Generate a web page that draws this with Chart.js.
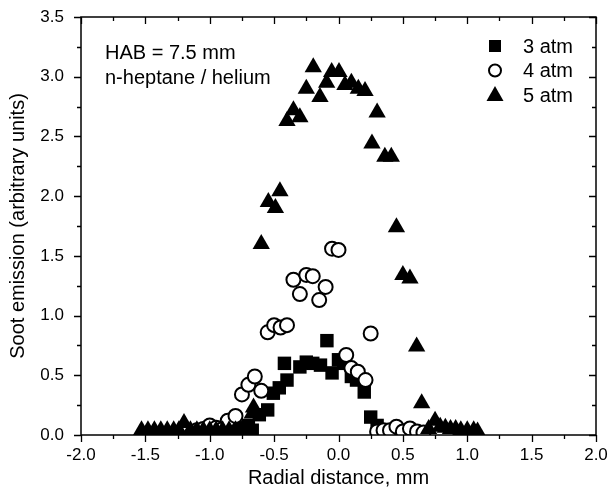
<!DOCTYPE html>
<html lang="en">
<head>
<meta charset="UTF-8">
<title>Soot emission profiles</title>
<script src="https://cdn.jsdelivr.net/npm/chart.js"></script>
<style>
  html, body { margin: 0; padding: 0; background: #fff; }
</style>
</head>
<body>
<canvas id="sootChart" width="608" height="493"></canvas>
<script>
// radial profiles of soot emission at HAB = 7.5 mm, three pressures
const x3atm = [-1.0, -0.95, -0.9, -0.85, -0.8, -0.75, -0.7, -0.67, -0.615, -0.55, -0.506, -0.46, -0.40,
               -0.42, -0.30, -0.25, -0.20, -0.14, -0.09, -0.05, 0.0, 0.04, 0.10, 0.14, 0.20, 0.25, 0.30, 0.36, 0.42];
const y3atm = [0.03, 0.04, 0.03, 0.05, 0.06, 0.05, 0.08, 0.04, 0.17, 0.21, 0.35, 0.395, 0.46,
               0.60, 0.57, 0.61, 0.60, 0.585, 0.79, 0.52, 0.63, 0.60, 0.49, 0.46, 0.36, 0.15, 0.08, 0.04, 0.02];

const x4atm = [-1.1, -1.05, -1.0, -0.95, -0.9, -0.86, -0.8, -0.75, -0.7, -0.65, -0.6, -0.55, -0.5, -0.45, -0.4,
               -0.35, -0.30, -0.25, -0.20, -0.15, -0.10, -0.05, 0.0, 0.06, 0.10, 0.15, 0.21, 0.25,
               0.30, 0.35, 0.40, 0.45, 0.50, 0.555, 0.61, 0.66];
const y4atm = [0.04, 0.05, 0.08, 0.06, 0.05, 0.12, 0.16, 0.34, 0.42, 0.49, 0.37, 0.86, 0.92, 0.90, 0.92,
               1.30, 1.18, 1.34, 1.33, 1.13, 1.24, 1.56, 1.55, 0.67, 0.56, 0.53, 0.46, 0.85,
               0.03, 0.04, 0.04, 0.07, 0.03, 0.055, 0.03, 0.02];

const x5atm = [-1.53, -1.48, -1.43, -1.38, -1.33, -1.28, -1.24, -1.2, -1.15, -1.1, -1.05, -1.0, -0.95, -0.9,
               -0.85, -0.8, -0.75, -0.71, -0.67, -0.66,
               -0.6, -0.545, -0.49, -0.455, -0.40, -0.35, -0.30, -0.25, -0.196, -0.144, -0.092, -0.053,
               0.004, 0.05, 0.10, 0.154, 0.206, 0.26, 0.30, 0.36, 0.41, 0.45, 0.50, 0.555, 0.607, 0.646,
               0.70, 0.75, 0.79, 0.83, 0.87, 0.91, 0.95, 1.0, 1.05, 1.08];
const y5atm = [0.04, 0.04, 0.04, 0.04, 0.04, 0.04, 0.04, 0.1, 0.04, 0.04, 0.04, 0.04, 0.04, 0.04,
               0.04, 0.04, 0.04, 0.04, 0.18, 0.23,
               1.60, 1.95, 1.90, 2.04, 2.63, 2.72, 2.66, 2.90, 3.08, 2.83, 2.95, 3.04,
               3.04, 2.93, 2.95, 2.90, 2.88, 2.44, 2.70, 2.33, 2.33, 1.74, 1.34, 1.31, 0.74, 0.265,
               0.05, 0.12, 0.07, 0.06, 0.05, 0.05, 0.04, 0.04, 0.04, 0.03];

const seriesLabels = ['3 atm', '4 atm', '5 atm'];
const noteLines = ['HAB = 7.5 mm', 'n-heptane / helium'];

const FONT = "'Liberation Sans', Arial, sans-serif";

function toPoints(xs, ys) {
    return xs.map((x, i) => ({ x: x, y: ys[i] }));
}

// frame, inward ticks on top/right, outward ticks on bottom/left, legend and note
const framePlugin = {
    id: 'frame',
    afterDraw(chart) {
        const ctx = chart.ctx;
        const xs = chart.scales.x, ys = chart.scales.y;
        const a = chart.chartArea;
        ctx.save();
        ctx.strokeStyle = '#000';
        ctx.lineWidth = 1.5;
        ctx.strokeRect(a.left, a.top, a.right - a.left, a.bottom - a.top);

        ctx.lineWidth = 1.3;
        ctx.beginPath();
        for (let i = 0; i <= 16; i++) {
            const v = -2 + i * 0.25;
            const px = Math.round(xs.getPixelForValue(v)) + 0.5;
            const len = i % 2 === 0 ? 7 : 4;
            ctx.moveTo(px, a.bottom); ctx.lineTo(px, a.bottom + len);
            ctx.moveTo(px, a.top); ctx.lineTo(px, a.top + len);
        }
        for (let i = 0; i <= 14; i++) {
            const v = i * 0.25;
            const py = Math.round(ys.getPixelForValue(v)) + 0.5;
            const len = i % 2 === 0 ? 7 : 4;
            ctx.moveTo(a.left, py); ctx.lineTo(a.left - len, py);
            ctx.moveTo(a.right, py); ctx.lineTo(a.right - len, py);
        }
        ctx.stroke();

        // annotation
        ctx.fillStyle = '#000';
        ctx.font = '20px ' + FONT;
        ctx.textBaseline = 'middle';
        ctx.textAlign = 'left';
        noteLines.forEach((t, i) => ctx.fillText(t, 105, 53 + i * 25));

        // legend
        const lx = 495, ly = 46, step = 24.5;
        seriesLabels.forEach((t, i) => {
            const cy = ly + i * step;
            ctx.beginPath();
            if (i === 0) {
                ctx.fillRect(lx - 6, cy - 6, 12, 12);
            } else if (i === 1) {
                ctx.lineWidth = 2;
                ctx.arc(lx, cy, 6, 0, Math.PI * 2);
                ctx.fillStyle = '#fff';
                ctx.fill();
                ctx.stroke();
                ctx.fillStyle = '#000';
            } else {
                ctx.moveTo(lx, cy - 9);
                ctx.lineTo(lx + 8.5, cy + 6);
                ctx.lineTo(lx - 8.5, cy + 6);
                ctx.closePath();
                ctx.fill();
            }
            ctx.fillText(t, 523, cy + 1);
        });
        ctx.restore();
    }
};

const ctx = document.getElementById('sootChart').getContext('2d');
new Chart(ctx, {
    type: 'scatter',
    data: {
        datasets: [{
            label: seriesLabels[0],
            data: toPoints(x3atm, y3atm),
            pointStyle: 'rect',
            pointRadius: 9.5,
            backgroundColor: '#000',
            borderColor: '#000',
            borderWidth: 0,
            order: 3
        }, {
            label: seriesLabels[1],
            data: toPoints(x4atm, y4atm),
            pointStyle: 'circle',
            pointRadius: 7,
            backgroundColor: '#fff',
            borderColor: '#000',
            borderWidth: 2,
            order: 2
        }, {
            label: seriesLabels[2],
            data: toPoints(x5atm, y5atm),
            pointStyle: 'triangle',
            pointRadius: 10,
            backgroundColor: '#000',
            borderColor: '#000',
            borderWidth: 0,
            order: 1
        }]
    },
    options: {
        responsive: false,
        animation: false,
        events: [],
        layout: { padding: { left: 0, right: 12, top: 17, bottom: 0 } },
        plugins: {
            legend: { display: false },
            tooltip: { enabled: false }
        },
        scales: {
            x: {
                type: 'linear',
                min: -2,
                max: 2,
                grid: { display: false, drawTicks: false },
                border: { display: false },
                ticks: {
                    stepSize: 0.5,
                    padding: 10,
                    color: '#000',
                    font: { family: FONT, size: 17 },
                    callback: v => v.toFixed(1)
                },
                title: {
                    display: true,
                    text: 'Radial distance, mm',
                    color: '#000',
                    font: { family: FONT, size: 20 },
                    padding: { top: 0, bottom: 3 }
                },
                afterFit(scale) {
                    scale.height = 58;
                    scale.paddingLeft = 0;
                    scale.paddingRight = 0;
                }
            },
            y: {
                type: 'linear',
                min: 0,
                max: 3.5,
                grid: { display: false, drawTicks: false },
                border: { display: false },
                ticks: {
                    stepSize: 0.5,
                    padding: 17,
                    color: '#000',
                    font: { family: FONT, size: 17 },
                    callback: v => v.toFixed(1)
                },
                title: {
                    display: true,
                    text: 'Soot emission (arbitrary units)',
                    color: '#000',
                    font: { family: FONT, size: 20 },
                    padding: { top: 6, bottom: 0 }
                },
                afterFit(scale) {
                    scale.width = 81;
                    scale.paddingTop = 0;
                    scale.paddingBottom = 0;
                }
            }
        }
    },
    plugins: [framePlugin]
});
</script>
</body>
</html>
